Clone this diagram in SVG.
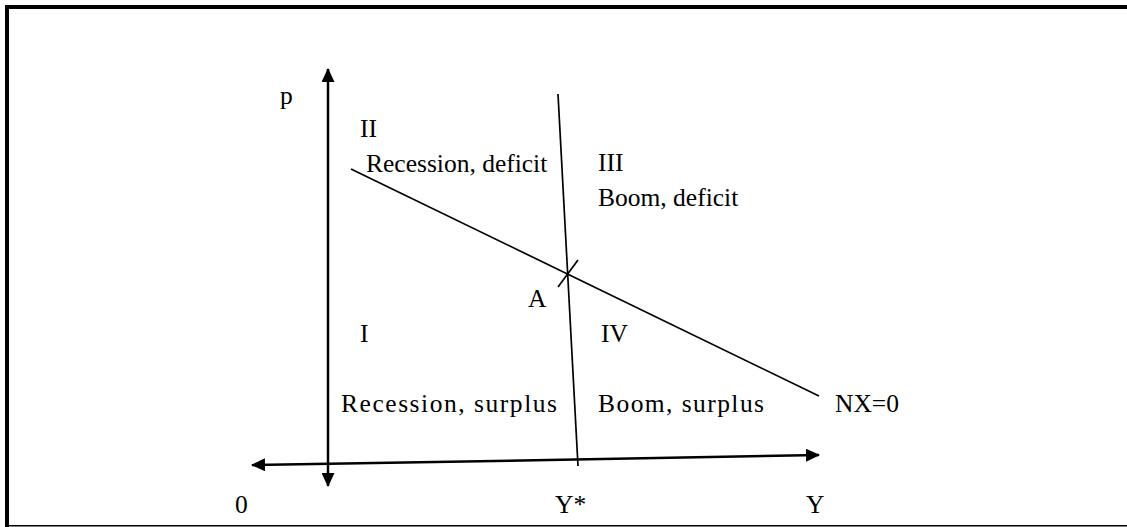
<svg xmlns="http://www.w3.org/2000/svg" width="1127" height="527" viewBox="0 0 1127 527">
<style>
text{font-family:"Liberation Serif","Times New Roman",serif;font-size:25.5px;fill:#000}
.ax{stroke:#000;stroke-width:2.5;fill:none}
.ln{stroke:#000;stroke-width:1.7;fill:none}
.fr{stroke:#000;fill:none}
</style>
<defs>
<marker id="ah" viewBox="0 0 14 13" refX="13" refY="6.5" markerWidth="14" markerHeight="13" markerUnits="userSpaceOnUse" orient="auto">
<path d="M0,0 L14,6.5 L0,13 Z" fill="#000"/>
</marker>
</defs>
<rect width="1127" height="527" fill="#fff"/>
<g id="frame">
<line class="fr" x1="5" y1="7" x2="1127" y2="7" stroke-width="4"/>
<line class="fr" x1="7" y1="5" x2="7" y2="527" stroke-width="4"/>
<line class="fr" x1="5" y1="525.8" x2="1127" y2="525.8" stroke-width="1.6"/>
</g>
<g id="connectors">
<line class="ax" x1="328" y1="277" x2="328" y2="69" marker-end="url(#ah)"/>
<line class="ax" x1="328" y1="277" x2="328" y2="486" marker-end="url(#ah)"/>
<line class="ax" x1="535" y1="460.3" x2="252" y2="465" marker-end="url(#ah)"/>
<line class="ax" x1="535" y1="460.3" x2="819" y2="455" marker-end="url(#ah)"/>
<line class="ln" x1="558" y1="94" x2="578" y2="466"/>
<line class="ln" x1="351" y1="169" x2="819" y2="396"/>
<line class="ln" x1="558" y1="287" x2="578" y2="260"/>
</g>
<g id="label-p"><text x="280" y="104">p</text></g>
<g id="label-II"><text x="360" y="137">II</text></g>
<g id="label-recession-deficit"><text x="366" y="172">Recession, deficit</text></g>
<g id="label-III"><text x="598" y="171">III</text></g>
<g id="label-boom-deficit"><text x="598" y="206">Boom, deficit</text></g>
<g id="label-A"><text x="528" y="307">A</text></g>
<g id="label-I"><text x="360" y="342">I</text></g>
<g id="label-IV"><text x="601" y="342">IV</text></g>
<g id="label-recession-surplus"><text x="341" y="412" textLength="216" lengthAdjust="spacing">Recession, surplus</text></g>
<g id="label-boom-surplus"><text x="598" y="412" textLength="166" lengthAdjust="spacing">Boom, surplus</text></g>
<g id="label-NX0"><text x="835" y="412">NX=0</text></g>
<g id="label-0"><text x="235" y="513">0</text></g>
<g id="label-Ystar"><text x="555" y="513">Y*</text></g>
<g id="label-Y"><text x="806" y="513">Y</text></g>
</svg>
